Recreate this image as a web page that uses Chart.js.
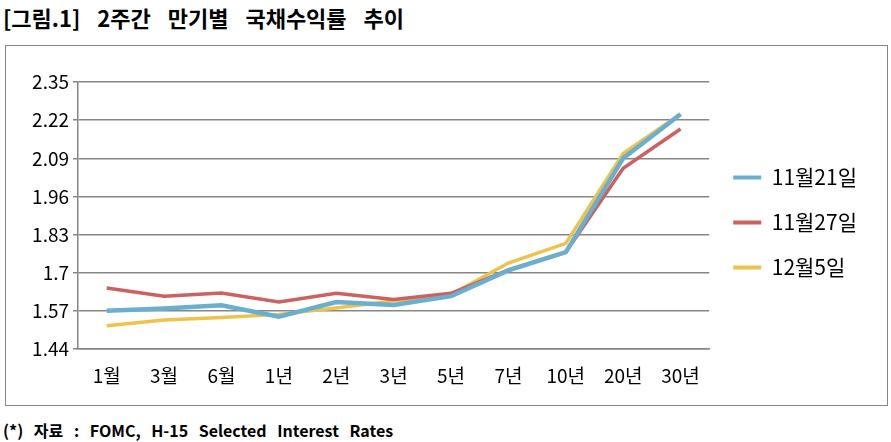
<!DOCTYPE html>
<html>
<head>
<meta charset="utf-8">
<script src="https://cdn.jsdelivr.net/npm/chart.js@4"></script>
<style>
  body { margin: 0; background: #fff; font-family: "Noto Sans CJK KR", sans-serif; }
  #page { position: relative; width: 891px; height: 442px; overflow: hidden; }
  #title { position: absolute; left: 3px; top: 1px; font-size: 22px; font-weight: bold; color: #000; word-spacing: 12px; white-space: nowrap; }
  #frame { position: absolute; left: 5px; top: 45px; width: 881px; height: 359px; border: 1.5px solid #868686; }
  #frame canvas { position: absolute; left: 0; top: 0; }
  #note { position: absolute; left: 3px; top: 418px; font-size: 16px; font-weight: bold; color: #000; word-spacing: 7px; white-space: nowrap; }
</style>
</head>
<body>
<div id="page">
  <div id="title">[그림.1] 2주간 만기별 국채수익률 추이</div>
  <div id="frame"><canvas id="myChart" width="881" height="359"></canvas></div>
  <div id="note">(*) 자료 : FOMC, H-15 Selected Interest Rates</div>
</div>
<script>
const labels = ['1월', '3월', '6월', '1년', '2년', '3년', '5년', '7년', '10년', '20년', '30년'];
const nov21 = [1.57, 1.578, 1.589, 1.55, 1.60, 1.59, 1.62, 1.708, 1.77, 2.09, 2.24];
const nov27 = [1.648, 1.62, 1.631, 1.60, 1.63, 1.609, 1.63, 1.71, 1.77, 2.056, 2.19];
const dec5 = [1.519, 1.539, 1.547, 1.558, 1.58, 1.604, 1.626, 1.733, 1.80, 2.106, 2.241];
const yTicks = [1.44, 1.57, 1.7, 1.83, 1.96, 2.09, 2.22, 2.35];

const font = "'Noto Sans CJK KR', sans-serif";

// legend sits a bit above the middle, like the excel chart
const liftLegend = {
    id: 'liftLegend',
    afterLayout: (chart) => { chart.legend.bottom -= 36; }
};

new Chart(document.getElementById('myChart'), {
    type: 'line',
    data: {
        labels: labels,
        datasets: [
            {
                label: '11월21일',
                data: nov21,
                borderColor: '#6aaed0',
                backgroundColor: '#6aaed0',
                borderWidth: 4.5
            }, {
                label: '11월27일',
                data: nov27,
                borderColor: '#cc6161',
                backgroundColor: '#cc6161',
                borderWidth: 3.5
            }, {
                label: '12월5일',
                data: dec5,
                borderColor: '#eec34d',
                backgroundColor: '#eec34d',
                borderWidth: 3.5
            }
        ]
    },
    plugins: [liftLegend],
    options: {
        responsive: false,
        animation: false,
        elements: { point: { radius: 0 }, line: { tension: 0 } },
        layout: { padding: { top: 36, right: 20, bottom: 6, left: 0 } },
        plugins: {
            tooltip: { enabled: false },
            legend: {
                position: 'right',
                labels: {
                    boxWidth: 28,
                    boxHeight: 4,
                    padding: 24,
                    color: '#000',
                    font: { family: font, size: 21, lineHeight: 0.85 },
                    generateLabels: (chart) => Chart.defaults.plugins.legend.labels.generateLabels(chart)
                        .map(item => ({ ...item, lineWidth: 0 }))
                }
            }
        },
        scales: {
            x: {
                offset: true,
                grid: { display: false, drawTicks: false },
                border: { display: true, color: '#868686', width: 1.5 },
                ticks: { color: '#000', padding: 15, maxRotation: 0, autoSkip: false, font: { family: font, size: 19 } },
                afterFit: (s) => { s.height = 50; }
            },
            y: {
                min: 1.44,
                max: 2.35,
                afterBuildTicks: (s) => { s.ticks = yTicks.map(v => ({ value: v })); },
                grid: { color: '#868686', lineWidth: 1.5, tickLength: 5 },
                border: { display: true, color: '#868686', width: 1.5 },
                ticks: {
                    color: '#000',
                    padding: 4,
                    font: { family: font, size: 19 },
                    callback: (v) => String(Number(v.toFixed(2)))
                },
                afterFit: (s) => { s.width = 72; }
            }
        }
    }
});
</script>
</body>
</html>
